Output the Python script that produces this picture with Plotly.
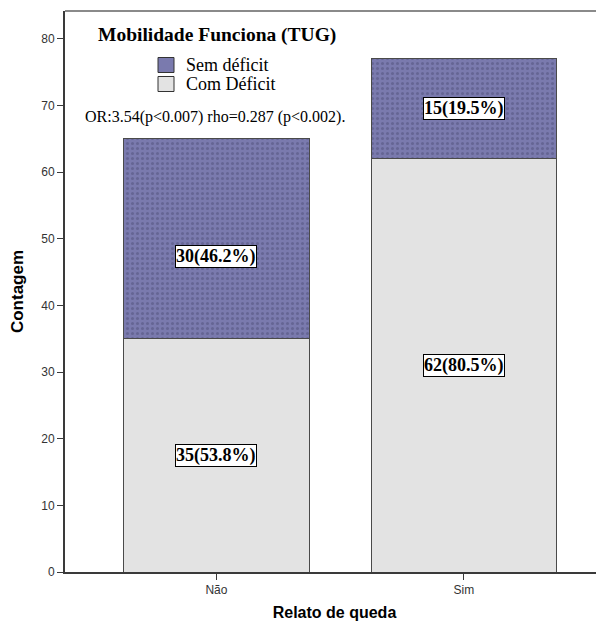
import plotly.graph_objects as go

categories = ["Não", "Sim"]
com_deficit = [35, 62]
sem_deficit = [30, 15]
com_labels = ["35(53.8%)", "62(80.5%)"]
sem_labels = ["30(46.2%)", "15(19.5%)"]
y_ticks = [0, 10, 20, 30, 40, 50, 60, 70, 80]

# the page body has an 8px margin, so the figure is shifted by 8px
OFF = 8
W, H = 604, 628
ML, MR, MT, MB = 57, 8, 3, 64

SEM_COLOR = "#7a7aae"
COM_COLOR = "#e3e3e3"
EDGE = "#4a4a4a"

fig = go.Figure()
fig.add_trace(go.Bar(
    x=categories, y=com_deficit, name="Com Déficit", width=0.75,
    marker=dict(color=COM_COLOR, line=dict(color=EDGE, width=1)),
    hoverinfo="skip", showlegend=False,
))
fig.add_trace(go.Bar(
    x=categories, y=sem_deficit, name="Sem déficit", width=0.75,
    marker=dict(color=SEM_COLOR, line=dict(color=EDGE, width=1),
                pattern=dict(shape=".", bgcolor=SEM_COLOR, fgcolor="#50507a",
                             size=5, solidity=0.3)),
    hoverinfo="skip", showlegend=False,
))

SERIF = "Liberation Serif, Times New Roman, serif"
label_font = dict(family=SERIF, size=18, color="black")
sem_shift = [-18, 0]
annotations = []
for i, c in enumerate(categories):
    annotations.append(dict(x=c, y=com_deficit[i] / 2, text="<b>%s</b>" % com_labels[i],
                            showarrow=False, font=label_font, bgcolor="white",
                            bordercolor="black", borderwidth=1, borderpad=0))
    annotations.append(dict(x=c, y=com_deficit[i] + sem_deficit[i] / 2,
                            yshift=sem_shift[i],
                            text="<b>%s</b>" % sem_labels[i],
                            showarrow=False, font=label_font, bgcolor="white",
                            bordercolor="black", borderwidth=1, borderpad=0))

pw = W - ML - MR
ph = H - MT - MB
def px_x(sx):
    return (sx - OFF - ML) / pw
def px_y(sy):
    return (H - MB - (sy - OFF)) / ph

annotations.append(dict(x=px_x(217), y=px_y(35), xref="paper", yref="paper",
                        xanchor="center", yanchor="middle",
                        text="<b>Mobilidade Funciona (TUG)</b>", showarrow=False,
                        font=dict(family=SERIF, size=19.5, color="black")))
annotations.append(dict(x=px_x(215), y=px_y(117), xref="paper", yref="paper",
                        xanchor="center", yanchor="middle",
                        text="OR:3.54(p<0.007) rho=0.287 (p<0.002).", showarrow=False,
                        font=dict(family=SERIF, size=16, color="black")))

# manual legend
legend_items = [("Sem déficit", SEM_COLOR, 65), ("Com Déficit", COM_COLOR, 84)]
shapes = [dict(type="line", xref="paper", yref="paper", x0=0, x1=1, y0=1, y1=1,
               line=dict(color="#8a8a8a", width=2))]
for name, col, cy in legend_items:
    shapes.append(dict(type="rect", xref="paper", yref="paper",
                       x0=px_x(158), x1=px_x(174), y0=px_y(cy - 7.5), y1=px_y(cy + 7.5),
                       fillcolor=col, line=dict(color="#333", width=1)))
    annotations.append(dict(x=px_x(184), y=px_y(cy), xref="paper", yref="paper",
                            xanchor="left", yanchor="middle", text=name, showarrow=False,
                            font=dict(family=SERIF, size=18, color="black")))

fig.update_layout(
    width=W, height=H,
    margin=dict(l=ML, r=MR, t=MT, b=MB, autoexpand=False),
    barmode="stack",
    plot_bgcolor="white", paper_bgcolor="white",
    showlegend=False,
    annotations=annotations,
    shapes=shapes,
    xaxis=dict(
        range=[-0.612, 1.566], showline=True, linecolor="#3a3a3a", linewidth=2,
        ticks="outside", ticklen=6, tickcolor="#3a3a3a", showgrid=False,
        automargin=False,
        tickfont=dict(family="Liberation Sans", size=12, color="#333"),
        title=dict(text="<b>Relato de queda</b>", standoff=10,
                   font=dict(family="Liberation Sans", size=16, color="black")),
    ),
    yaxis=dict(
        range=[0, 84.2], showline=True, linecolor="#3a3a3a", linewidth=2,
        tickvals=y_ticks, ticks="outside", ticklen=6, tickcolor="#3a3a3a",
        showgrid=False, zeroline=False, automargin=False,
        tickfont=dict(family="Liberation Sans", size=12, color="#333"),
        title=dict(text="<b>Contagem</b>", standoff=20,
                   font=dict(family="Liberation Sans", size=17, color="black")),
    ),
)

fig.write_html("out.html")
